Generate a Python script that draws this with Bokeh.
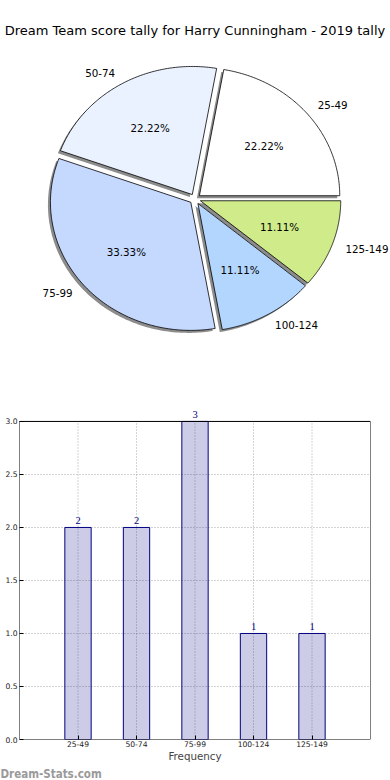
import numpy as np
from bokeh.plotting import figure
from bokeh.models import Range1d, Label, LabelSet, FixedTicker, ColumnDataSource, PrintfTickFormatter, Title
from bokeh.embed import file_html
from bokeh.resources import INLINE

# ---------------- data ----------------
title_text = "Dream Team score tally for Harry Cunningham - 2019 tally"
categories = ["25-49", "50-74", "75-99", "100-124", "125-149"]
counts = [2, 2, 3, 1, 1]
pie_colors = ["#FFFFFF", "#EBF2FF", "#C5D9FF", "#B3D6FF", "#CFEB8A"]
y_ticks = [0.0, 0.5, 1.0, 1.5, 2.0, 2.5, 3.0]
x_label = "Frequency"
watermark = "Dream-Stats.com"

FONT = "DejaVu Sans"
W = 390
PIE_H = 380
BAR_H = 400

# ---------------- pie ----------------
cx, cy = 194.6, 198.5      # pixel centre inside pie figure
rx, ry = 140.35, 128.1     # pixel radii (matplotlib non-equal aspect)
explode = 0.04

p1 = figure(width=W, height=PIE_H, output_backend="svg", toolbar_location=None,
            x_range=Range1d(-cx / rx, (W - cx) / rx),
            y_range=Range1d(-(PIE_H - cy) / ry, cy / ry),
            x_axis_type=None, y_axis_type=None, min_border=0)
p1.outline_line_color = None
p1.grid.visible = False

total = float(sum(counts))
fracs = [c / total for c in counts]
starts = np.cumsum([0.0] + fracs[:-1]) * 2 * np.pi
ends = np.cumsum(fracs) * 2 * np.pi

xs, ys, sxs, sys_ = [], [], [], []
lab_x, lab_y, pct_x, pct_y = [], [], [], []
for a0, a1 in zip(starts, ends):
    mid = 0.5 * (a0 + a1)
    ox, oy = explode * np.cos(mid), explode * np.sin(mid)
    t = np.linspace(a0, a1, 120)
    px = np.concatenate([[ox], ox + np.cos(t), [ox]])
    py = np.concatenate([[oy], oy + np.sin(t), [oy]])
    xs.append(px.tolist()); ys.append(py.tolist())
    sxs.append((px - 2.5 / rx).tolist()); sys_.append((py - 2.5 / ry).tolist())
    lab_x.append(ox + 1.1 * np.cos(mid)); lab_y.append(oy + 1.1 * np.sin(mid))
    pct_x.append(ox + 0.6 * np.cos(mid)); pct_y.append(oy + 0.6 * np.sin(mid))

p1.patches(sxs, sys_, fill_color="#8c8c8c", line_color=None)
p1.patches(xs, ys, fill_color=pie_colors, line_color="black", line_width=0.8)

for i, cat in enumerate(categories):
    align = "left" if lab_x[i] > 0 else "right"
    p1.add_layout(Label(x=lab_x[i], y=lab_y[i], text=cat, text_align=align,
                        text_baseline="middle", text_font=FONT,
                        text_font_size="10.3px", text_color="black"))
    p1.add_layout(Label(x=pct_x[i], y=pct_y[i], text="%.2f%%" % (100 * fracs[i]),
                        text_align="center", text_baseline="middle", text_font=FONT,
                        text_font_size="10.3px", text_color="black"))

p1.add_layout(Label(x=(194.5 - cx) / rx, y=(cy - 30) / ry, text=title_text,
                    text_align="center", text_baseline="middle", text_font=FONT,
                    text_font_size="13px", text_color="black"))

# ---------------- bar ----------------
FRAME_TOP, BOX_TOP, FRAME_BOT = 22, 41, 360
ymax = max(y_ticks)
px_per_unit = (FRAME_BOT - BOX_TOP) / ymax
idx = list(range(len(categories)))
p2 = figure(width=W, height=BAR_H, output_backend="svg", toolbar_location=None,
            x_range=Range1d(-1, len(categories)),
            y_range=Range1d(0, ymax + (BOX_TOP - FRAME_TOP) / px_per_unit),
            min_border_left=19, min_border_right=W - 370,
            min_border_top=FRAME_TOP, min_border_bottom=BAR_H - FRAME_BOT)
p2.outline_line_color = None

p2.xgrid.visible = False
p2.ygrid.ticker = FixedTicker(ticks=y_ticks)
p2.ygrid.grid_line_color = "#a8a8a8"
p2.ygrid.grid_line_dash = "1 2"
p2.ygrid.grid_line_width = 1
p2.segment(x0=idx, y0=[0] * len(idx), x1=idx, y1=[ymax] * len(idx),
           line_color="#a8a8a8", line_dash="1 2", line_width=1)

p2.vbar(x=idx, top=counts, width=0.45, fill_color="navy", fill_alpha=0.2,
        line_color="navy", line_width=1)

p2.quad(left=[-1], right=[len(categories)], bottom=[0], top=[ymax],
        fill_color=None, line_color="black", line_width=1)

src = ColumnDataSource(dict(x=idx, y=counts, t=[str(c) for c in counts]))
p2.add_layout(LabelSet(x="x", y="y", text="t", source=src, text_align="center",
                       text_baseline="bottom", y_offset=3, text_font=FONT,
                       text_font_size="10.5px", text_color="navy"))

p2.xaxis.ticker = FixedTicker(ticks=idx)
p2.xaxis.major_label_overrides = {i: c for i, c in zip(idx, categories)}
p2.yaxis.ticker = FixedTicker(ticks=y_ticks)
p2.yaxis.formatter = PrintfTickFormatter(format="%.1f")
for ax in (p2.xaxis, p2.yaxis):
    ax.major_label_text_font = FONT
    ax.major_label_text_font_size = "7.6px"
    ax.major_label_text_color = "#222222"
    ax.major_tick_in = 4
    ax.major_tick_out = 0
    ax.major_tick_line_color = "black"
    ax.minor_tick_line_color = None
    ax.axis_line_color = None
    ax.major_label_standoff = 2
p2.xaxis.major_label_standoff = 1
p2.xaxis.axis_label = x_label
p2.xaxis.axis_label_text_font = FONT
p2.xaxis.axis_label_text_font_size = "10.3px"
p2.xaxis.axis_label_text_font_style = "normal"
p2.xaxis.axis_label_standoff = 0

p2.add_layout(Title(text=watermark, align="left", offset=-19,
                    text_font="DejaVu Sans Condensed, DejaVu Sans",
                    text_font_size="11.5px", text_font_style="bold",
                    text_color="#9a9a9a", standoff=0), "below")

open("out.html", "w").write(file_html([p1, p2], INLINE))
